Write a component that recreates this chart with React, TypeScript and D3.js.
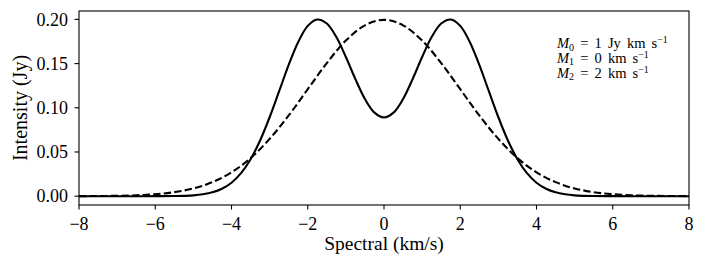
import React from "react";
import * as d3 from "d3";

// Spectral velocity (km/s) sample positions and intensities (Jy)
const solidX = [-8, -7.5, -7, -6.5, -6, -5.5, -5, -4.75, -4.5, -4.25, -4, -3.75, -3.5, -3.25, -3, -2.75, -2.5, -2.25, -2, -1.75, -1.5, -1.25, -1, -0.75, -0.5, -0.25, 0, 0.25, 0.5, 0.75, 1, 1.25, 1.5, 1.75, 2, 2.25, 2.5, 2.75, 3, 3.25, 3.5, 3.75, 4, 4.25, 4.5, 4.75, 5, 5.5, 6, 6.5, 7, 7.5, 8];
const solidY = [0, 0, 0, 0, 0.00002, 0.00017, 0.00096, 0.0021, 0.00433, 0.00838, 0.01524, 0.026, 0.0418, 0.063, 0.0893, 0.1188, 0.1486, 0.1745, 0.1927, 0.1999, 0.1953, 0.18, 0.1574, 0.1324, 0.1099, 0.0945, 0.089, 0.0945, 0.1099, 0.1324, 0.1574, 0.18, 0.1953, 0.1999, 0.1927, 0.1745, 0.1486, 0.1188, 0.0893, 0.063, 0.0418, 0.026, 0.01524, 0.00838, 0.00433, 0.0021, 0.00096, 0.00017, 0.00002, 0, 0, 0, 0];

const dashedX = [-8, -7.5, -7, -6.5, -6, -5.5, -5, -4.5, -4, -3.5, -3, -2.5, -2, -1.5, -1, -0.5, 0, 0.5, 1, 1.5, 2, 2.5, 3, 3.5, 4, 4.5, 5, 5.5, 6, 6.5, 7, 7.5, 8];
const dashedY = [0.00007, 0.00018, 0.00044, 0.00102, 0.00222, 0.00455, 0.00876, 0.0159, 0.027, 0.0431, 0.0648, 0.0913, 0.121, 0.1506, 0.176, 0.1933, 0.1995, 0.1933, 0.176, 0.1506, 0.121, 0.0913, 0.0648, 0.0431, 0.027, 0.0159, 0.00876, 0.00455, 0.00222, 0.00102, 0.00044, 0.00018, 0.00007];

const xTicks = [-8, -6, -4, -2, 0, 2, 4, 6, 8];
const yTicks = [0, 0.05, 0.1, 0.15, 0.2];
const legendLines = [
  { sub: "0", rest: " = 1 Jy km s" },
  { sub: "1", rest: " = 0 km s" },
  { sub: "2", rest: " = 2 km s" },
];

const W = 705;
const H = 269;
const M = { left: 79, right: 689, top: 11, bottom: 205 };
const FONT = "'Liberation Serif', 'Times New Roman', serif";

export default function App() {
  const x = d3.scaleLinear().domain([-8, 8]).range([M.left, M.right]);
  const y = d3.scaleLinear().domain([-0.00998, 0.2095]).range([M.bottom, M.top]);

  const line = d3
    .line<[number, number]>()
    .x((d) => x(d[0]))
    .y((d) => y(d[1]))
    .curve(d3.curveCatmullRom.alpha(0.5));

  const solidPath = line(solidX.map((v, i) => [v, solidY[i]] as [number, number])) || "";
  const dashedPath = line(dashedX.map((v, i) => [v, dashedY[i]] as [number, number])) || "";

  const fmtY = (v: number) => v.toFixed(2);
  const fmtX = (v: number) => (v < 0 ? "\u2212" + Math.abs(v) : String(v));

  return (
    <svg
      width={W}
      height={H}
      style={{ position: "absolute", left: 0, top: 0, background: "#fff" }}
      fontFamily={FONT}
    >
      <rect x={0} y={0} width={W} height={H} fill="#fff" />
      <defs>
        <clipPath id="plotclip">
          <rect x={M.left} y={M.top} width={M.right - M.left} height={M.bottom - M.top} />
        </clipPath>
      </defs>
      <g clipPath="url(#plotclip)">
        <path d={dashedPath} fill="none" stroke="#000" strokeWidth={2.1} strokeDasharray="7.4,3.2" />
        <path d={solidPath} fill="none" stroke="#000" strokeWidth={2.1} />
      </g>
      {/* spines */}
      <rect
        x={M.left}
        y={M.top}
        width={M.right - M.left}
        height={M.bottom - M.top}
        fill="none"
        stroke="#000"
        strokeWidth={1.1}
      />
      {/* x ticks */}
      {xTicks.map((t) => (
        <g key={"x" + t}>
          <line x1={x(t)} x2={x(t)} y1={M.bottom} y2={M.bottom + 4.5} stroke="#000" strokeWidth={1.1} />
          <text x={x(t)} y={M.bottom + 25} fontSize={18} textAnchor="middle" fill="#000">
            {fmtX(t)}
          </text>
        </g>
      ))}
      {/* y ticks */}
      {yTicks.map((t) => (
        <g key={"y" + t}>
          <line x1={M.left - 4.5} x2={M.left} y1={y(t)} y2={y(t)} stroke="#000" strokeWidth={1.1} />
          <text x={M.left - 11} y={y(t)} dy="0.35em" fontSize={18} textAnchor="end" fill="#000">
            {fmtY(t)}
          </text>
        </g>
      ))}
      {/* axis labels */}
      <text x={(M.left + M.right) / 2} y={250} fontSize={19.5} textAnchor="middle" fill="#000">
        Spectral (km/s)
      </text>
      <text
        transform={`translate(27, ${(M.top + M.bottom) / 2}) rotate(-90)`}
        fontSize={20}
        textAnchor="middle"
        fill="#000"
      >
        Intensity (Jy)
      </text>
      {/* annotation */}
      {legendLines.map((l, i) => (
        <text key={"l" + i} x={557} y={48 + i * 14.8} fontSize={14.5} wordSpacing={2.5} fill="#000">
          <tspan fontStyle="italic">M</tspan>
          <tspan fontSize={10} dy={2.5}>
            {l.sub}
          </tspan>
          <tspan dy={-2.5}>{l.rest}</tspan>
          <tspan fontSize={10} dy={-5}>
            {"\u22121"}
          </tspan>
        </text>
      ))}
    </svg>
  );
}
